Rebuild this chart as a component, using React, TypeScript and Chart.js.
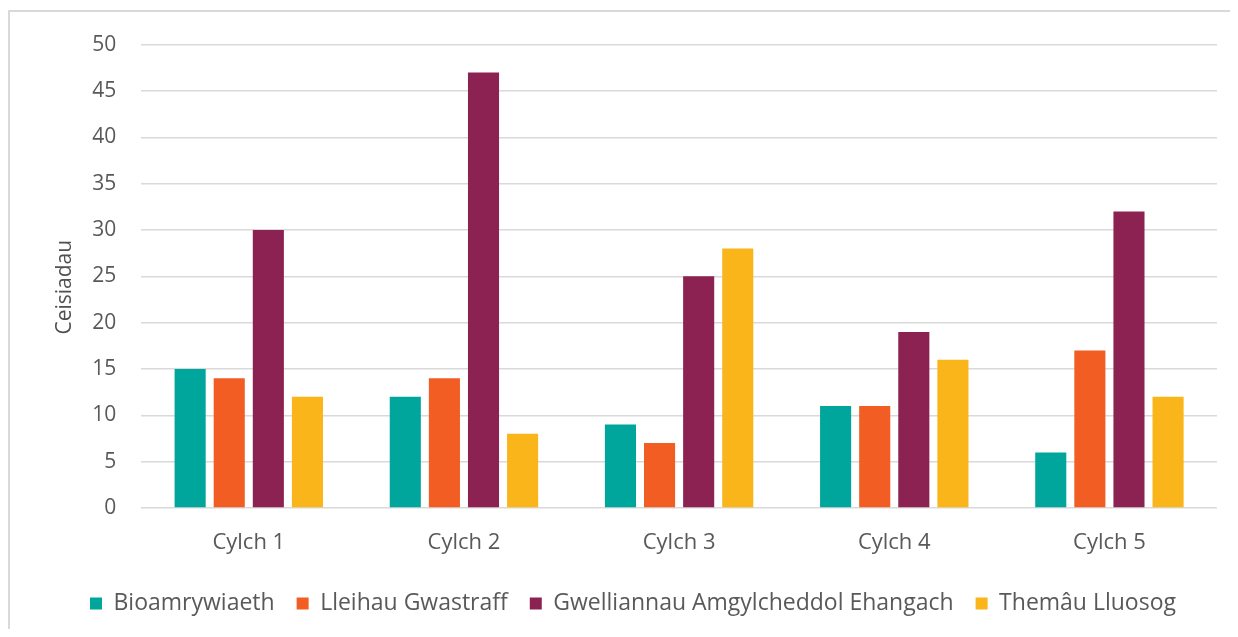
import React, { useEffect, useRef } from "react";
import { Chart, registerables } from "chart.js";

Chart.register(...registerables);

const categories = ["Cylch 1", "Cylch 2", "Cylch 3", "Cylch 4", "Cylch 5"];
const seriesNames = [
  "Bioamrywiaeth",
  "Lleihau Gwastraff",
  "Gwelliannau Amgylcheddol Ehangach",
  "Themâu Lluosog",
];
const bioamrywiaeth = [15, 12, 9, 11, 6];
const lleihauGwastraff = [14, 14, 7, 11, 17];
const gwelliannau = [30, 47, 25, 19, 32];
const themau = [12, 8, 28, 16, 12];
const colors = ["#00A59B", "#F15D22", "#8B2252", "#F9B51A"];
const yTitle = "Ceisiadau";

export default function App() {
  const ref = useRef<HTMLCanvasElement>(null);
  useEffect(() => {
    document.documentElement.style.overflow = "hidden";
    document.body.style.overflow = "hidden";
    if (!ref.current) return;
    const values = [bioamrywiaeth, lleihauGwastraff, gwelliannau, themau];
    const font = "'Open Sans', sans-serif";
    const chart = new Chart(ref.current, {
      type: "bar",
      data: {
        labels: categories,
        datasets: seriesNames.map((name, i) => ({
          label: name,
          data: values[i],
          backgroundColor: colors[i],
          borderWidth: 0,
          categoryPercentage: 0.727,
          barPercentage: 0.795,
        })),
      },
      options: {
        animation: false,
        responsive: false,
        maintainAspectRatio: false,
        layout: { padding: { top: 7, right: 13, left: 39, bottom: 4 } },
        plugins: {
          legend: {
            position: "bottom",
            labels: {
              boxWidth: 12,
              boxHeight: 12,
              padding: 22,
              color: "#595959",
              font: { family: font, size: 23, lineHeight: 1.15 },
            },
          },
          tooltip: { enabled: false },
        },
        scales: {
          x: {
            grid: { display: false },
            border: { display: false },
            ticks: {
              color: "#595959",
              font: { family: font, size: 22, lineHeight: 1.0 },
              padding: 16,
            },
          },
          y: {
            min: 0,
            max: 50,
            ticks: {
              stepSize: 5,
              color: "#595959",
              font: { family: font, size: 21 },
              padding: 25,
            },
            grid: { color: "#D9D9D9", lineWidth: 1.5, drawTicks: false },
            border: { display: false },
            title: {
              display: true,
              text: yTitle + "    ",
              color: "#505050",
              font: { family: font, size: 21 },
              padding: { top: 3, bottom: -10 },
            },
          },
        },
      },
    });
    return () => chart.destroy();
  }, []);
  return (
    <div style={{ paddingTop: 2 }}>
      <div
        style={{
          width: 1222,
          height: 619,
          borderTop: "2px solid #D9D9D9",
          borderLeft: "2px solid #D9D9D9",
          boxSizing: "border-box",
        }}
      >
        <canvas
          ref={ref}
          width={1220}
          height={622}
          style={{ display: "block", marginTop: -5 }}
        />
      </div>
    </div>
  );
}
